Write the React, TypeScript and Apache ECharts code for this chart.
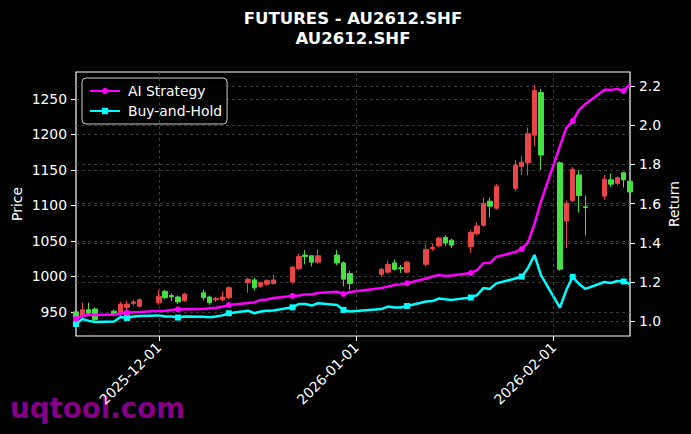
import React, { useEffect, useRef } from 'react';
import * as echarts from 'echarts';

const dates = [
  '2025-11-18', '2025-11-19', '2025-11-20', '2025-11-21', '2025-11-24', '2025-11-25', '2025-11-26', '2025-11-27', '2025-11-28',
  '2025-12-01', '2025-12-02', '2025-12-03', '2025-12-04', '2025-12-05',
  '2025-12-08', '2025-12-09', '2025-12-10', '2025-12-11', '2025-12-12',
  '2025-12-15', '2025-12-16', '2025-12-17', '2025-12-18', '2025-12-19',
  '2025-12-22', '2025-12-23', '2025-12-24', '2025-12-25', '2025-12-26',
  '2025-12-29', '2025-12-30', '2025-12-31',
  '2026-01-05', '2026-01-06', '2026-01-07', '2026-01-08', '2026-01-09',
  '2026-01-12', '2026-01-13', '2026-01-14', '2026-01-15', '2026-01-16',
  '2026-01-19', '2026-01-20', '2026-01-21', '2026-01-22', '2026-01-23',
  '2026-01-26', '2026-01-27', '2026-01-28', '2026-01-29', '2026-01-30',
  '2026-02-02', '2026-02-03', '2026-02-04', '2026-02-05', '2026-02-06',
  '2026-02-09', '2026-02-10', '2026-02-11', '2026-02-12', '2026-02-13',
];

const opens = [
  950, 944, 953, 954, 951, 949, 956, 962, 958,
  963, 979, 973, 971, 966,
  977, 971, 967, 967, 970,
  991, 995, 986, 989, 990,
  992, 1011, 1030, 1029, 1020,
  1030, 1019, 1004,
  1003, 1006, 1019, 1012, 1006,
  1017, 1039, 1043, 1055, 1051,
  1042, 1060, 1072, 1106, 1096,
  1124, 1155, 1160, 1199, 1259,
  1160, 1078, 1107, 1143, 1098,
  1113, 1136, 1131, 1146, 1134,
];

const closes = [
  942, 953, 948, 939, 947, 961, 961, 964, 967,
  972, 970, 971, 964, 975,
  970, 963, 969, 971, 984,
  996, 984, 991, 994, 995,
  1013, 1028, 1028, 1020, 1029,
  1019, 996, 990,
  1010, 1017, 1010, 1011, 1020,
  1038, 1041, 1054, 1047, 1044,
  1062, 1071, 1103, 1099, 1127,
  1157, 1161, 1201, 1262, 1171,
  1010, 1103, 1151, 1114, 1097,
  1137, 1130, 1139, 1136, 1119,
];

const lows = [
  938, 941, 944, 936, 944, 944, 952, 959, 956,
  960, 968, 965, 961, 964,
  966, 960, 964, 965, 968,
  977, 980, 984, 987, 988,
  990, 1009, 1017, 1014, 1018,
  1016, 986, 981,
  999, 1004, 1008, 1005, 1004,
  1014, 1036, 1041, 1043, 1040,
  1033, 1058, 1070, 1083, 1094,
  1120, 1143, 1142, 1184, 1150,
  1008, 1040, 1105, 1090, 1058,
  1108, 1126, 1128, 1125, 1116,
];

const highs = [
  953, 963, 963, 956, 953, 964, 966, 967, 969,
  981, 981, 976, 973, 977,
  981, 973, 971, 979, 986,
  998, 998, 993, 996, 1002,
  1015, 1032, 1037, 1030, 1038,
  1037, 1021, 1008,
  1012, 1022, 1024, 1016, 1022,
  1045, 1046, 1056, 1058, 1053,
  1065, 1076, 1111, 1111, 1130,
  1164, 1170, 1210, 1270, 1264,
  1162, 1107, 1154, 1150, 1114,
  1143, 1145, 1141, 1147, 1137,
];

const aiStrategy = [
  1.013, 1.028, 1.033, 1.033, 1.036, 1.041, 1.045, 1.047, 1.048,
  1.054, 1.055, 1.059, 1.062, 1.062,
  1.064, 1.067, 1.070, 1.075, 1.084,
  1.094, 1.097, 1.110, 1.112, 1.120,
  1.130, 1.132, 1.138, 1.139, 1.145,
  1.152, 1.140, 1.150,
  1.171, 1.178, 1.186, 1.189, 1.195,
  1.219, 1.229, 1.237, 1.232, 1.234,
  1.247, 1.262, 1.298, 1.298, 1.329,
  1.354, 1.369, 1.405, 1.497, 1.609,
  1.894, 1.986, 2.021, 2.078, 2.108,
  2.180, 2.180, 2.185, 2.174, 2.210,
];

const buyHold = [
  0.987, 1.013, 1.003, 0.997, 1.000, 1.023, 1.018, 1.025, 1.028,
  1.031, 1.025, 1.025, 1.020, 1.025,
  1.024, 1.021, 1.025, 1.031, 1.042,
  1.055, 1.042, 1.051, 1.055, 1.056,
  1.072, 1.089, 1.089, 1.081, 1.093,
  1.084, 1.059, 1.051,
  1.064, 1.076, 1.071, 1.071, 1.079,
  1.102, 1.104, 1.117, 1.113, 1.110,
  1.122, 1.135, 1.171, 1.166, 1.194,
  1.219, 1.229, 1.273, 1.339, 1.237,
  1.071, 1.160, 1.227, 1.191, 1.166,
  1.201, 1.196, 1.206, 1.204, 1.191,
];

const dateTicks = ['2025-12-01', '2026-01-01', '2026-02-01'];
const priceTicks = [950, 1000, 1050, 1100, 1150, 1200, 1250];
const returnTicks = [1.0, 1.2, 1.4, 1.6, 1.8, 2.0, 2.2];

const FONT = 'DejaVu Sans';

function toTs(s: string): number {
  const [y, m, d] = s.split('-').map(Number);
  return new Date(y, m - 1, d).getTime();
}

function fmtDate(v: number): string {
  const d = new Date(v);
  const p = (n: number) => (n < 10 ? '0' + n : '' + n);
  return d.getFullYear() + '-' + p(d.getMonth() + 1) + '-' + p(d.getDate());
}

export default function App() {
  const ref = useRef<HTMLDivElement>(null);

  useEffect(() => {
    document.body.style.margin = '0';
    document.body.style.background = '#000';
    const chart = echarts.init(ref.current!, null, { renderer: 'svg' });
    const ts = dates.map(toTs);
    const tickTs = dateTicks.map(toTs);
    const grid = { color: '#4a4a4a', type: [3, 3] as any, width: 0.8 };

    const option: any = {
      animation: false,
      backgroundColor: '#000',
      grid: {
        left: 76, right: 61, top: 72, bottom: 98,
        show: true, borderColor: '#ffffff', borderWidth: 1.2,
        backgroundColor: 'rgba(0,0,0,0)',
        containLabel: false, outerBoundsMode: 'none',
      },
      legend: {
        left: 82, top: 78, orient: 'vertical',
        backgroundColor: 'rgba(0,0,0,0.8)', borderColor: '#cccccc', borderWidth: 1, borderRadius: 4,
        padding: [6, 5, 6, 7], itemWidth: 30, itemHeight: 8, itemGap: 6,
        textStyle: { color: '#ffffff', fontSize: 13.9, fontFamily: FONT, padding: [0, 0, 0, 3] },
        data: ['AI Strategy', 'Buy-and-Hold'],
      },
      xAxis: {
        type: 'value', min: ts[0], max: ts[ts.length - 1],
        axisLine: { show: false },
        axisTick: { show: true, length: 5, lineStyle: { color: '#ffffff' }, customValues: tickTs },
        axisLabel: {
          customValues: tickTs, rotate: 45, color: '#ffffff', fontSize: 13.9, fontFamily: FONT, margin: 9,
          formatter: (v: number) => fmtDate(v),
        },
        splitLine: { show: true, lineStyle: grid },
        z: 10,
      },
      yAxis: [
        {
          type: 'value', position: 'left', min: 916, max: 1288,
          axisLine: { show: false },
          axisTick: { show: true, length: 5, lineStyle: { color: '#ffffff' }, customValues: priceTicks },
          axisLabel: {
            customValues: priceTicks, color: '#ffffff', fontSize: 13.9, fontFamily: FONT, margin: 9,
            formatter: (v: number) => String(Math.round(v)),
          },
          splitLine: { show: true, lineStyle: grid },
        },
        {
          type: 'value', position: 'right', min: 0.926, max: 2.271,
          axisLine: { show: false },
          axisTick: { show: true, length: 5, lineStyle: { color: '#ffffff' }, customValues: returnTicks },
          axisLabel: {
            customValues: returnTicks, color: '#ffffff', fontSize: 13.9, fontFamily: FONT, margin: 9,
            formatter: (v: number) => v.toFixed(1),
          },
          splitLine: { show: true, lineStyle: grid },
        },
      ],
      series: [
        {
          type: 'candlestick', name: 'Price', xAxisIndex: 0, yAxisIndex: 0,
          barWidth: 5,
          encode: { x: 0, y: [1, 2, 3, 4] },
          data: ts.map((t, i) => [t, opens[i], closes[i], lows[i], highs[i]]),
          itemStyle: {
            color: '#e84646', color0: '#44e044',
            borderColor: '#e84646', borderColor0: '#44e044', borderWidth: 1,
          },
          z: 2,
        },
        {
          type: 'line', name: 'AI Strategy', xAxisIndex: 0, yAxisIndex: 1,
          data: ts.map((t, i) => [t, aiStrategy[i]]),
          color: '#ff00ff',
          lineStyle: { color: '#ff00ff', width: 2.5 },
          itemStyle: { color: '#ff00ff' },
          symbol: 'circle', showSymbol: true,
          symbolSize: (_v: any, p: any) => (p && p.dataIndex % 6 === 0 ? 6 : 0),
          z: 5,
        },
        {
          type: 'line', name: 'Buy-and-Hold', xAxisIndex: 0, yAxisIndex: 1,
          data: ts.map((t, i) => [t, buyHold[i]]),
          color: '#00ffff',
          lineStyle: { color: '#00ffff', width: 2.5 },
          itemStyle: { color: '#00ffff' },
          symbol: 'rect', showSymbol: true,
          symbolSize: (_v: any, p: any) => (p && p.dataIndex % 6 === 0 ? 6 : 0),
          z: 4,
        },
      ],
      graphic: [
        {
          type: 'text', x: 353, y: 18,
          style: { text: 'FUTURES - AU2612.SHF', fill: '#ffffff', font: `bold 16.5px "${FONT}"`, align: 'center', verticalAlign: 'middle' },
        },
        {
          type: 'text', x: 353, y: 38,
          style: { text: 'AU2612.SHF', fill: '#ffffff', font: `bold 16.5px "${FONT}"`, align: 'center', verticalAlign: 'middle' },
        },
        {
          type: 'text', x: 17, y: 204, rotation: Math.PI / 2,
          style: { text: 'Price', fill: '#ffffff', font: `13.9px "${FONT}"`, align: 'center', verticalAlign: 'middle' },
        },
        {
          type: 'text', x: 674, y: 204, rotation: Math.PI / 2,
          style: { text: 'Return', fill: '#ffffff', font: `13.9px "${FONT}"`, align: 'center', verticalAlign: 'middle' },
        },
        {
          type: 'text', x: 10, y: 408, z: -10,
          style: { text: 'uqtool.com', fill: '#850085', font: `bold 27.7px "${FONT}"`, align: 'left', verticalAlign: 'middle' },
        },
      ],
    };

    chart.setOption(option);
    return () => chart.dispose();
  }, []);

  return <div ref={ref} style={{ width: 691, height: 434, background: '#000' }} />;
}
